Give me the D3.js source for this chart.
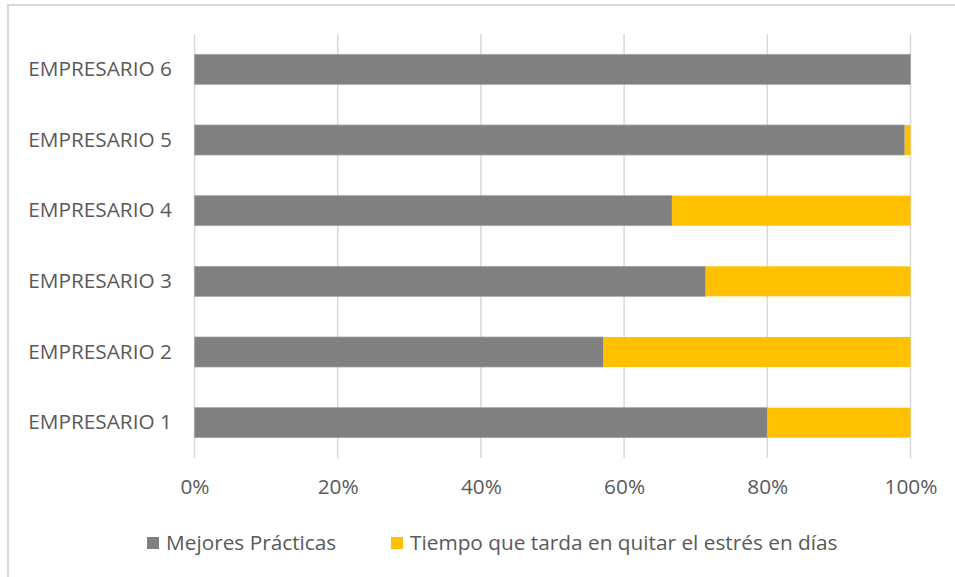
<!DOCTYPE html>
<html><head><meta charset="utf-8">
<script src="https://cdn.jsdelivr.net/npm/d3@7"></script>
<style>body{margin:0;background:#fff}svg{display:block}</style>
</head><body>
<script>
const categories = ["EMPRESARIO 1","EMPRESARIO 2","EMPRESARIO 3","EMPRESARIO 4","EMPRESARIO 5","EMPRESARIO 6"];
const mejoresPracticas = [80.0, 57.1, 71.4, 66.7, 99.2, 100];
const tiempoQuitarEstres = [20.0, 42.9, 28.6, 33.3, 0.8, 0];
const seriesNames = ["Mejores Prácticas","Tiempo que tarda en quitar el estrés en días"];
const seriesColors = ["#808080","#FFC000"];
const tickValues = [0,0.2,0.4,0.6,0.8,1.0];

const W=955,H=577;
const svg=d3.select("body").append("svg").attr("width",W).attr("height",H);
svg.append("rect").attr("x",8).attr("y",5).attr("width",960).attr("height",590)
  .attr("fill","#fff").attr("stroke","#d9d9d9").attr("stroke-width",2);

const font="'Open Sans', sans-serif";
const fs=20.8;
const x=d3.scaleLinear().domain([0,1]).range([194.5,910.5]);
const y=d3.scaleBand().domain(categories.slice().reverse()).range([34,458]).paddingInner(0.575).paddingOuter(0.2875);

svg.append("g").selectAll("line").data(tickValues).join("line")
  .attr("x1",d=>x(d)).attr("x2",d=>x(d)).attr("y1",34).attr("y2",458)
  .attr("stroke","#d9d9d9").attr("stroke-width",1.5);

const rows=categories.map((c,i)=>({c,vals:[mejoresPracticas[i],tiempoQuitarEstres[i]]}));
rows.forEach(r=>{
  const tot=r.vals[0]+r.vals[1];
  let acc=0;
  r.segs=r.vals.map((v,k)=>{const s={c:r.c,k,x0:acc/tot,x1:(acc+v)/tot};acc+=v;return s;});
});
const segs=rows.flatMap(r=>r.segs).filter(s=>s.x1>s.x0);
svg.append("g").selectAll("rect").data(segs).join("rect")
  .attr("x",d=>x(d.x0)).attr("width",d=>x(d.x1)-x(d.x0))
  .attr("y",d=>y(d.c)).attr("height",y.bandwidth())
  .attr("fill",d=>seriesColors[d.k])
  .attr("stroke",d=>d.k===0?"#a6a6a6":"none").attr("stroke-width",0.75);

const ya=svg.append("g").attr("transform","translate(172,0)")
  .call(d3.axisLeft(y).tickSize(0).tickPadding(0));
ya.select(".domain").remove();
ya.selectAll("text").attr("font-family",font).attr("font-size",fs).attr("fill","#595959");

const xa=svg.append("g").attr("transform","translate(0,479)")
  .call(d3.axisBottom(x).tickValues(tickValues).tickFormat(d3.format(".0%")).tickSize(0).tickPadding(0));
xa.select(".domain").remove();
xa.selectAll("text").attr("font-family",font).attr("font-size",fs).attr("fill","#595959").attr("dy","0.71em");

const legX=[147,391];
const lg=svg.append("g").selectAll("g").data(seriesNames).join("g")
  .attr("transform",(d,i)=>`translate(${legX[i]},537)`);
lg.append("rect").attr("width",12).attr("height",12).attr("fill",(d,i)=>seriesColors[i]);
lg.append("text").attr("x",19).attr("y",6).attr("dy","0.35em").text(d=>d)
  .attr("font-family",font).attr("font-size",fs).attr("fill","#595959");
</script>
</body></html>
